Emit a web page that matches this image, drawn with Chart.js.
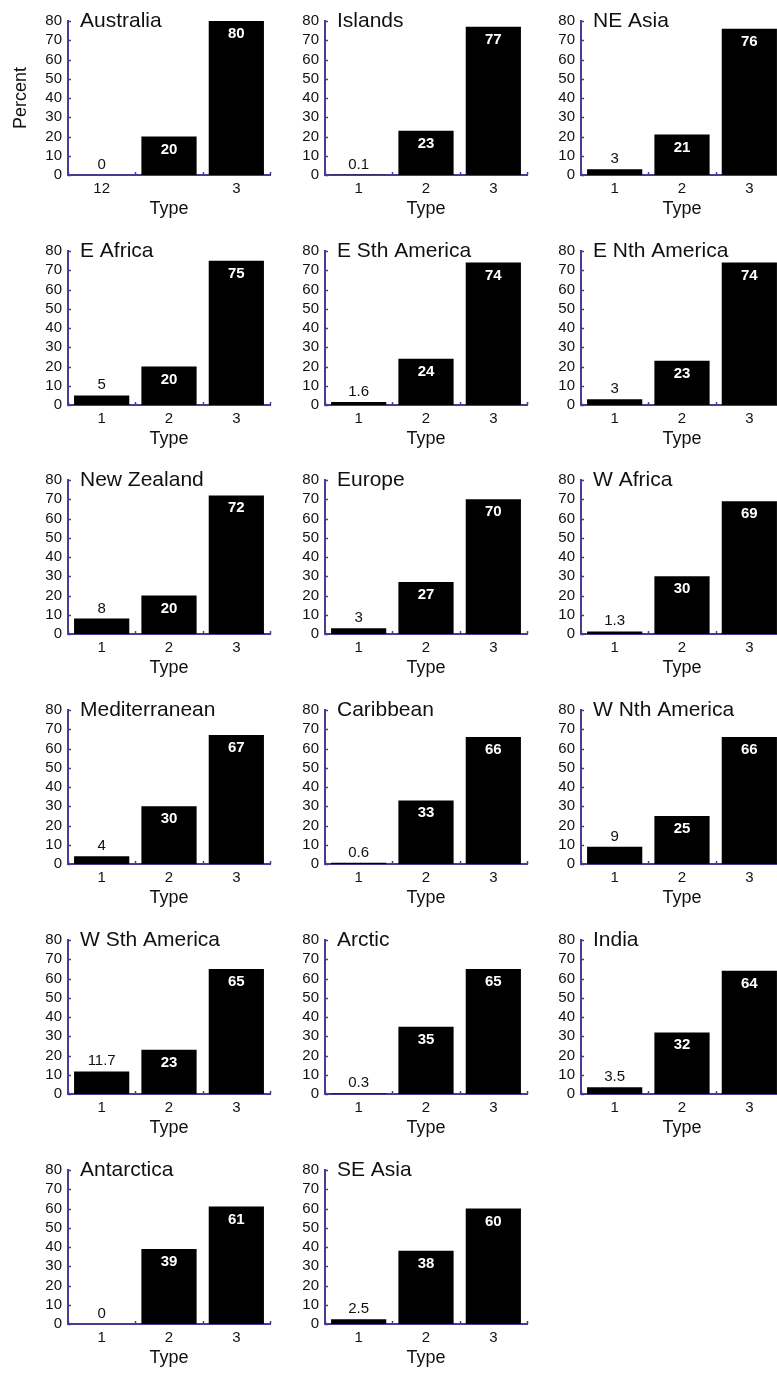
<!DOCTYPE html>
<html>
<head>
<meta charset="utf-8">
<script src="https://cdn.jsdelivr.net/npm/chart.js@4.4.1/dist/chart.umd.min.js"></script>
<style>
  html, body { margin: 0; padding: 0; background: #fff; overflow: hidden; }
  #panels { position: relative; width: 777px; height: 1374px; overflow: hidden; background: #fff; }
  #panels canvas { position: absolute; }
</style>
</head>
<body>
<div id="panels"></div>
<script>
const regions = [
  "Australia", "Islands", "NE Asia",
  "E Africa", "E Sth America", "E Nth America",
  "New Zealand", "Europe", "W Africa",
  "Mediterranean", "Caribbean", "W Nth America",
  "W Sth America", "Arctic", "India",
  "Antarctica", "SE Asia"
];
const type1 = [0, 0.1, 3, 5, 1.6, 3, 8, 3, 1.3, 4, 0.6, 9, 11.7, 0.3, 3.5, 0, 2.5];
const type2 = [20, 23, 21, 20, 24, 23, 20, 27, 30, 30, 33, 25, 23, 35, 32, 39, 38];
const type3 = [80, 77, 76, 75, 74, 74, 72, 70, 69, 67, 66, 66, 65, 65, 64, 61, 60];
const typeLabels = ["1", "2", "3"];
const australiaLabels = ["12", "", "3"]; // the first panel really shows "12" under bar 1
const yTicks = [0, 10, 20, 30, 40, 50, 60, 70, 80];

const axisColor = "#463d92";
const textColor = "#111";

Chart.defaults.font.family = '"Liberation Sans", Arial, sans-serif';

// small inward tick marks, like the original plots
const tickMarks = {
  id: "tickMarks",
  afterDatasetsDraw(chart) {
    const ctx = chart.ctx;
    const x = chart.scales.x;
    const y = chart.scales.y;
    ctx.save();
    ctx.strokeStyle = axisColor;
    ctx.lineWidth = 1.5;
    ctx.beginPath();
    yTicks.forEach((v) => {
      const py = Math.round(y.getPixelForValue(v)) + 0.5;
      ctx.moveTo(x.left, py);
      ctx.lineTo(x.left + 3, py);
    });
    const n = chart.data.labels.length;
    for (let i = 0; i <= n; i++) {
      const px = Math.round(x.left + (i * (x.right - x.left)) / n) + 0.5;
      ctx.moveTo(px, y.bottom);
      ctx.lineTo(px, y.bottom - 3);
    }
    ctx.stroke();
    ctx.restore();
  },
};

const valueLabels = {
  id: "valueLabels",
  afterDatasetsDraw(chart) {
    const ctx = chart.ctx;
    const meta = chart.getDatasetMeta(0);
    const values = chart.data.datasets[0].data;
    ctx.save();
    ctx.textAlign = "center";
    ctx.textBaseline = "alphabetic";
    meta.data.forEach((bar, i) => {
      const v = values[i];
      if (v >= 15) {
        ctx.font = 'bold 15px "Liberation Sans", Arial, sans-serif';
        ctx.fillStyle = "#fff";
        ctx.fillText(String(v), bar.x, bar.y + 17);
      } else {
        ctx.font = '15px "Liberation Sans", Arial, sans-serif';
        ctx.fillStyle = textColor;
        ctx.fillText(String(v), bar.x, bar.y - 6);
      }
    });
    ctx.restore();
  },
};

const panelName = {
  id: "panelName",
  afterDraw(chart, args, opts) {
    const ctx = chart.ctx;
    ctx.save();
    ctx.font = '21px "Liberation Sans", Arial, sans-serif';
    ctx.fillStyle = textColor;
    ctx.textAlign = "left";
    ctx.textBaseline = "alphabetic";
    ctx.fillText(opts.text, chart.chartArea.left + 12, chart.chartArea.top + 6);
    ctx.restore();
  },
};

document.addEventListener("DOMContentLoaded", function () {
  const panelsDiv = document.getElementById("panels");
  const colLeft = [8, 265, 521];

  regions.forEach((region, i) => {
    const col = i % 3;
    const row = Math.floor(i / 3);
    const canvas = document.createElement("canvas");
    canvas.width = 265;
    canvas.height = 230;
    canvas.style.left = colLeft[col] + "px";
    canvas.style.top = Math.round(1 + 229.7 * row) + "px";
    panelsDiv.appendChild(canvas);

    new Chart(canvas, {
      type: "bar",
      data: {
        labels: i === 0 ? australiaLabels : typeLabels,
        datasets: [
          {
            data: [type1[i], type2[i], type3[i]],
            backgroundColor: "#000",
            borderWidth: 0,
            barPercentage: 0.82,
            categoryPercentage: 1,
          },
        ],
      },
      options: {
        responsive: false,
        animation: false,
        devicePixelRatio: 1,
        layout: { padding: { left: 0, top: 20, right: 3, bottom: 0 } },
        plugins: {
          legend: { display: false },
          tooltip: { enabled: false },
          panelName: { text: region },
        },
        scales: {
          x: {
            grid: { display: false, drawTicks: false },
            border: { color: axisColor, width: 2 },
            ticks: { color: textColor, font: { size: 15 }, padding: 5 },
            title: {
              display: true,
              text: "Type",
              color: textColor,
              font: { size: 18 },
              padding: { top: 0, bottom: 11 },
            },
            afterFit: (scale) => {
              scale.height = 56;
            },
          },
          y: {
            min: 0,
            max: 80,
            grid: { display: false, drawTicks: false },
            border: { color: axisColor, width: 2 },
            ticks: {
              stepSize: 10,
              autoSkip: false,
              color: textColor,
              font: { size: 15 },
              padding: 6,
            },
            title: {
              display: i === 0,
              text: "Percent",
              color: textColor,
              font: { size: 18 },
              padding: { top: 2, bottom: 0 },
            },
            afterFit: (scale) => {
              scale.width = 60;
            },
          },
        },
      },
      plugins: [tickMarks, valueLabels, panelName],
    });
  });
});
</script>
</body>
</html>
